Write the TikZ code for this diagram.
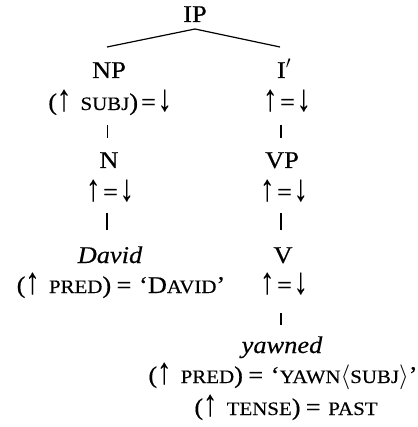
\documentclass[tikz,border=0pt]{standalone}
\usepackage{fontspec}
\usepackage{graphicx}
\setmainfont{Liberation Serif}[FakeStretch=1.1,FakeBold=0.4,ItalicFeatures={FakeBold=0.4,FakeStretch=1.1}]
\newcommand{\smc}[1]{{\fontsize{19}{20}\selectfont\MakeUppercase{#1}}}
\newcommand{\up}{\smash{\raisebox{-0.5pt}{\scalebox{1.05}[1.55]{↑}}}}
\newcommand{\dn}{\smash{\raisebox{-0.5pt}{\scalebox{1.05}[1.55]{↓}}}}
\newcommand{\eqs}{\hspace{0.22em}=\hspace{0.32em}}
\newcommand{\eqt}{\hspace{0.12em}=\hspace{0.08em}}
\begin{document}
\begin{tikzpicture}[x=1pt,y=-1pt,
  lab/.style={inner sep=0pt,anchor=base,font=\fontsize{24}{26}\selectfont},
  tree/.style={line width=1.2pt},
  bar/.style={line width=1.5pt,shorten <=14pt,shorten >=31pt}]
\useasboundingbox (0,0) rectangle (417,427);
\node[lab] (IP) at (195,22) {IP};
\node[lab] (NP) at (109,78) {NP};
\node[lab] (I) at (284,78) {I$'$};
\node[lab] (NPeq) at (110,110) {(\up\hspace{0.4em}\smc{subj})\eqt\dn};
\node[lab] (Ieq) at (287,110) {\up\eqt\dn};
\node[lab] (N) at (109,168) {N};
\node[lab] (VP) at (282,168) {VP};
\node[lab] (Neq) at (110,200) {\up\eqt\dn};
\node[lab] (VPeq) at (284,200) {\up\eqt\dn};
\node[lab] (David) at (110,263) {\textit{David}};
\node[lab] (V) at (283,263) {V};
\node[lab] (Deq) at (121,293) {(\up\hspace{0.4em}\smc{pred})\eqs‘D\smc{avid}’};
\node[lab] (Veq) at (284,293) {\up\eqt\dn};
\node[lab] (yawned) at (282,353) {\textit{yawned}};
\node[lab] (Yeq) at (283,383) {(\up\hspace{0.4em}\smc{pred})\eqs‘\smc{yawn}$\langle$\smc{subj}$\rangle$’};
\node[lab] (Teq) at (286,415) {(\up\hspace{0.4em}\smc{tense})\eqs\smc{past}};
\coordinate (lf) at (107,47);
\coordinate (rt) at (280,47);
\draw[tree] ([yshift=-7pt]IP.base) -- (lf);
\draw[tree] ([yshift=-7pt]IP.base) -- (rt);
\draw[bar,line width=1pt,shorten <=15pt,shorten >=30pt] (NPeq.base -| 107,0) -- (N.base -| 107,0);
\draw[bar,shorten <=15pt,shorten >=30pt] (Ieq.base -| 281,0) -- (VP.base -| 281,0);
\draw[bar,shorten <=13pt,shorten >=33pt] (Neq.base -| 107,0) -- (David.base -| 107,0);
\draw[bar,shorten <=13pt,shorten >=33pt] (VPeq.base -| 281,0) -- (V.base -| 281,0);
\draw[bar,shorten <=20pt,shorten >=28pt] (Veq.base -| 281,0) -- (yawned.base -| 281,0);
\end{tikzpicture}
\end{document}
